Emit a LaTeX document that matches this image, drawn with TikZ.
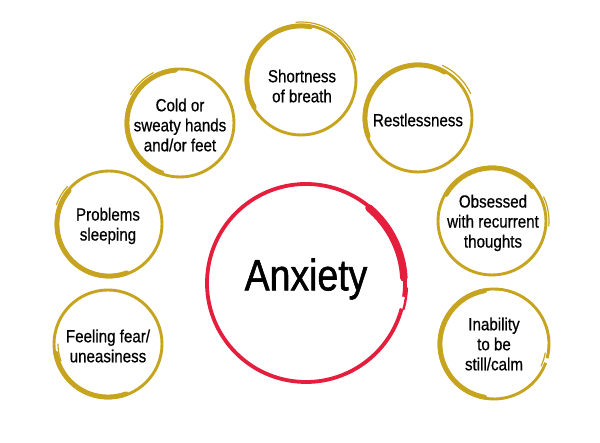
\documentclass[tikz,border=0pt]{standalone}
\usepackage{fontspec}
\setmainfont{Liberation Sans}[FakeBold=0.6]
\newfontfamily\medfont{Liberation Sans}[FakeBold=0.6]
\newfontfamily\bigfont{Liberation Sans}[FakeBold=1.4]
\definecolor{gold}{HTML}{C6A41F}
\definecolor{anxred}{HTML}{E41E3C}
\newcommand{\barc}[5]{\draw[#5] (#1) ++(#3:#2) arc[start angle=#3,end angle=#4,radius=#2];}
\begin{document}
\begin{tikzpicture}[x=1pt,y=1pt,
  lbl/.style={align=center, font=\medfont\fontsize{17.6}{20}\selectfont, xscale=0.86, inner sep=0pt},
  ring/.style={draw=gold, line width=2.9pt},
  brush/.style={draw=gold, line width=4.8pt, line cap=round},
  tail/.style={draw=gold, line width=1.2pt, line cap=round},
  rring/.style={draw=anxred, line width=3.8pt},
  rbrush/.style={draw=anxred, line width=7.5pt, line cap=round}]
\useasboundingbox (0,0) rectangle (600,443);
\fill[white] (0,0) rectangle (600,443);

% central node
\node[align=center, font=\bigfont\fontsize{44}{50}\selectfont, xscale=0.85, inner sep=0pt] (anx) at (306,164) {Anxiety};
\coordinate (canx) at (306,160);
\barc{canx}{99}{-8}{345}{rring}
\barc{canx}{98}{3}{50}{rbrush}
\barc{canx}{101}{-15}{-3}{draw=anxred, line width=2.4pt, line cap=round}

% outer nodes
\node[lbl] (short) at (302,357) {Shortness\\of breath};
\coordinate (cshort) at (301,363);
\barc{cshort}{55}{0}{360}{ring}
\barc{cshort}{54}{80}{210}{brush}
\barc{cshort}{58}{95}{20}{tail}

\node[lbl] (cold) at (180,318) {Cold or\\sweaty hands\\and/or feet};
\coordinate (ccold) at (180,320);
\barc{ccold}{54}{0}{360}{ring}
\barc{ccold}{53}{95}{250}{brush}
\barc{ccold}{57}{118}{150}{tail}

\node[lbl] (rest) at (418,323) {Restlessness};
\coordinate (crest) at (418,325);
\barc{crest}{54}{0}{360}{ring}
\barc{crest}{53}{60}{200}{brush}
\barc{crest}{58}{65}{25}{tail}

\node[lbl] (sleep) at (108,217) {Problems\\sleeping};
\coordinate (csleep) at (109,219);
\barc{csleep}{53}{0}{360}{ring}
\barc{csleep}{52}{140}{290}{brush}
\barc{csleep}{56}{138}{160}{tail}

\node[lbl] (obs) at (493,220) {Obsessed\\with recurrent\\thoughts};
\coordinate (cobs) at (492,222);
\barc{cobs}{54}{0}{360}{ring}
\barc{cobs}{53}{40}{150}{brush}
\barc{cobs}{57}{-5}{25}{tail}

\node[lbl] (fear) at (108,97) {Feeling fear/\\uneasiness};
\coordinate (cfear) at (108,99);
\barc{cfear}{54}{0}{360}{ring}
\barc{cfear}{53}{190}{290}{brush}
\barc{cfear}{50}{180}{200}{tail}

\node[lbl] (inab) at (494,99) {Inability\\to be\\still/calm};
\coordinate (cinab) at (494,99);
\barc{cinab}{55}{-15}{340}{ring}
\barc{cinab}{54}{100}{260}{brush}
\barc{cinab}{52}{-25}{-10}{tail}
\end{tikzpicture}
\end{document}
